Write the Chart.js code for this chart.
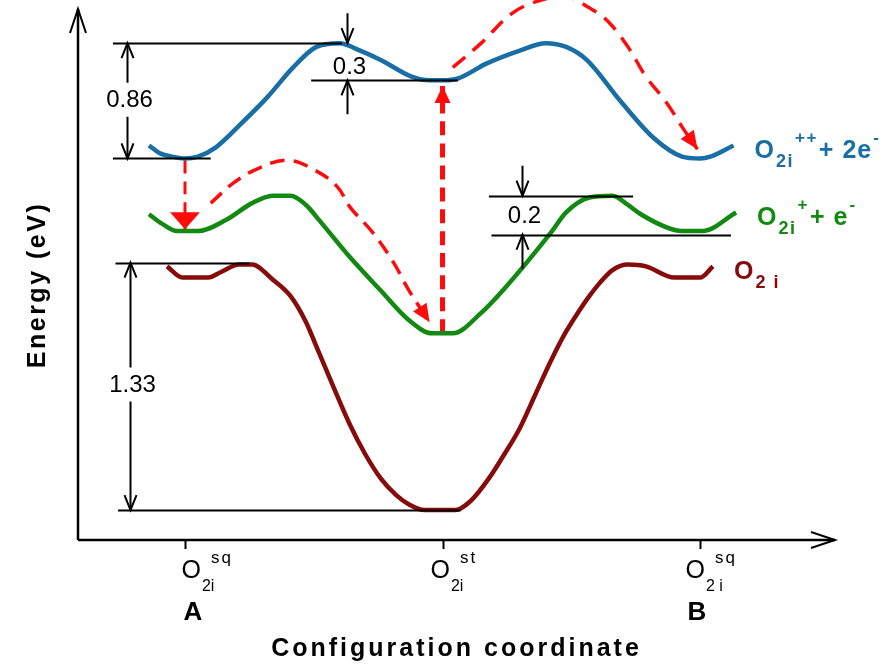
<!DOCTYPE html>
<html>
<head>
<meta charset="utf-8">
<script src="https://cdn.jsdelivr.net/npm/chart.js@4"></script>
<style>
  html, body { margin: 0; padding: 0; background: #fff; }
  canvas { display: block; }
</style>
</head>
<body>
<canvas id="ccd" width="889" height="666"></canvas>
<script>
// x: configuration coordinate (0 = O2i sq at A, 1 = O2i st, 2 = O2i sq at B)
// y: energy (eV), O2i st ground state at 0

// O2i
const redX = [-0.07, -0.01, 0.09, 0.14, 0.21, 0.26, 0.34, 0.41, 0.47, 0.51, 0.58, 0.64, 0.70, 0.76, 0.82, 0.87, 0.93, 1.0, 1.05, 1.11, 1.18, 1.24, 1.30, 1.36, 1.42, 1.48, 1.53, 1.57, 1.61, 1.66, 1.72, 1.79, 1.90, 2.0, 2.05];
const redY = [1.31, 1.25, 1.25, 1.28, 1.32, 1.32, 1.24, 1.15, 1.01, 0.88, 0.65, 0.46, 0.30, 0.17, 0.08, 0.03, 0, 0, 0, 0.05, 0.17, 0.30, 0.44, 0.62, 0.80, 0.96, 1.07, 1.15, 1.22, 1.29, 1.32, 1.31, 1.25, 1.25, 1.31];

// O2i+ + e-
const greenX = [-0.14, -0.09, -0.03, 0.05, 0.16, 0.26, 0.34, 0.41, 0.47, 0.52, 0.64, 0.76, 0.87, 0.96, 1.0, 1.04, 1.15, 1.24, 1.42, 1.48, 1.57, 1.66, 1.72, 1.77, 1.87, 1.93, 2.01, 2.14];
const greenY = [1.59, 1.54, 1.50, 1.50, 1.56, 1.65, 1.69, 1.69, 1.64, 1.56, 1.36, 1.18, 1.02, 0.95, 0.95, 0.95, 1.06, 1.19, 1.49, 1.60, 1.68, 1.69, 1.64, 1.59, 1.52, 1.50, 1.50, 1.60];

// O2i++ + 2e-
const blueX = [-0.14, -0.10, -0.05, 0, 0.05, 0.12, 0.22, 0.32, 0.42, 0.51, 0.60, 0.68, 0.76, 0.88, 0.95, 1.0, 1.06, 1.17, 1.30, 1.40, 1.48, 1.56, 1.69, 1.82, 1.93, 2.0, 2.04, 2.13];
const blueY = [1.96, 1.92, 1.90, 1.89, 1.90, 1.95, 2.08, 2.22, 2.38, 2.49, 2.51, 2.47, 2.42, 2.33, 2.31, 2.31, 2.32, 2.40, 2.47, 2.51, 2.49, 2.42, 2.20, 2.00, 1.90, 1.89, 1.90, 1.96];

// red dashed paths
const dropX = [0, 0];
const dropY = [1.88, 1.51];
const hopAX = [0.10, 0.19, 0.29, 0.40, 0.50, 0.59, 0.64, 0.73, 0.81, 0.87, 0.95];
const hopAY = [1.65, 1.76, 1.84, 1.88, 1.83, 1.74, 1.63, 1.49, 1.33, 1.18, 1.01];
const liftX = [1.0, 1.0];
const liftY = [0.95, 2.28];
const hopBX = [1.04, 1.15, 1.27, 1.38, 1.48, 1.57, 1.64, 1.72, 1.79, 1.87, 1.93, 1.99];
const hopBY = [2.38, 2.51, 2.67, 2.74, 2.76, 2.70, 2.63, 2.49, 2.33, 2.19, 2.06, 1.94];

// black reference levels
const levelX1 = [-0.28, -0.28, 0.49, 1.18, 1.19, -0.27, -0.26];
const levelX2 = [0.61, 0.10, 1.06, 1.74, 2.12, 0.25, 1.07];
const levelY  = [2.51, 1.89, 2.31, 1.69, 1.48, 1.33, 0];

// energy gaps
const gapLabels = ['0.86', '0.3', '0.2', '1.33'];
const gapX      = [-0.225, 0.63, 1.31, -0.215];
const gapTop    = [2.51, 2.51, 1.69, 1.33];
const gapBottom = [1.89, 2.31, 1.48, 0];
const gapTextY  = [2.20, 2.38, 1.58, 0.67];
const gapInside = [true, false, false, true];

// x ticks
const tickValues = [0, 1, 2];
const tickSub = ['2i', '2i', '2 i'];
const tickSup = ['sq', 'st', 'sq'];
const tickLetters = ['A', '', 'B'];

const BLUE = '#1a6ea6';
const GREEN = '#128a12';
const DARKRED = '#870b0b';
const RED = '#ff0b0b';

const toPts = (xs, ys) => xs.map((x, i) => ({ x: x, y: ys[i] }));

function curve(xs, ys, color) {
    return {
        data: toPts(xs, ys),
        borderColor: color,
        borderWidth: 4.5,
        pointRadius: 0,
        cubicInterpolationMode: 'monotone'
    };
}

function dashed(xs, ys, width, dash, head) {
    return {
        data: toPts(xs, ys),
        borderColor: RED,
        borderWidth: width,
        borderDash: dash,
        pointRadius: 0,
        tension: 0.4,
        clip: false,
        head: head
    };
}

function openHead(ctx, x, y, ang, len, half) {
    const c = Math.cos(ang), s = Math.sin(ang);
    ctx.beginPath();
    ctx.moveTo(x - len * c + half * s, y - len * s - half * c);
    ctx.lineTo(x, y);
    ctx.lineTo(x - len * c - half * s, y - len * s + half * c);
    ctx.stroke();
}

function filledHead(ctx, x, y, ang, len, half) {
    const c = Math.cos(ang), s = Math.sin(ang);
    ctx.beginPath();
    ctx.moveTo(x, y);
    ctx.lineTo(x - len * c + half * s, y - len * s - half * c);
    ctx.lineTo(x - len * c - half * s, y - len * s + half * c);
    ctx.closePath();
    ctx.fill();
}

// draws text pieces one after another: [text, kind]
function textRun(ctx, parts, x, base, color) {
    ctx.fillStyle = color;
    ctx.textAlign = 'left';
    ctx.textBaseline = 'alphabetic';
    let cx = x;
    parts.forEach(([t, kind]) => {
        let dy = 0;
        if (kind === 'sub') { ctx.font = 'bold 18px "Liberation Sans", Arial'; dy = 9; }
        else if (kind === 'sup') { ctx.font = 'bold 17px "Liberation Sans", Arial'; dy = -15; }
        else { ctx.font = 'bold 25px "Liberation Sans", Arial'; }
        ctx.letterSpacing = kind === 'main' ? '1px' : '1.5px';
        ctx.fillText(t, cx, base + dy);
        cx += ctx.measureText(t).width + 1;
    });
    ctx.letterSpacing = '0px';
}

const seriesText = [
    [['O', 'main'], ['2 i', 'sub']],
    [['O', 'main'], ['2i', 'sub'], ['+', 'sup'], ['+ e', 'main'], ['-', 'sup']],
    [['O', 'main'], ['2i', 'sub'], ['++', 'sup'], ['+ 2e', 'main'], ['-', 'sup']]
];

const diagramPlugin = {
    id: 'diagram',
    afterDatasetsDraw(chart) {
        const ctx = chart.ctx;
        const xs = chart.scales.x, ys = chart.scales.y;
        const area = chart.chartArea;
        ctx.save();

        // reference levels
        ctx.strokeStyle = '#000';
        ctx.lineWidth = 2;
        levelY.forEach((v, i) => {
            const y = Math.round(ys.getPixelForValue(v)) + 0.5;
            ctx.beginPath();
            ctx.moveTo(xs.getPixelForValue(levelX1[i]), y);
            ctx.lineTo(xs.getPixelForValue(levelX2[i]), y);
            ctx.stroke();
        });

        // gap arrows and values
        gapLabels.forEach((lab, i) => {
            const x = Math.round(xs.getPixelForValue(gapX[i])) + 0.5;
            const yt = ys.getPixelForValue(gapTop[i]);
            const yb = ys.getPixelForValue(gapBottom[i]);
            const yl = ys.getPixelForValue(gapTextY[i]);
            ctx.lineWidth = 2;
            ctx.beginPath();
            if (gapInside[i]) {
                ctx.moveTo(x, yt); ctx.lineTo(x, yl - 18);
                ctx.moveTo(x, yl + 16); ctx.lineTo(x, yb);
                ctx.stroke();
                openHead(ctx, x, yt, -Math.PI / 2, 15, 6);
                openHead(ctx, x, yb, Math.PI / 2, 15, 6);
            } else {
                ctx.moveTo(x, yt - 30); ctx.lineTo(x, yt);
                ctx.moveTo(x, yb + 34); ctx.lineTo(x, yb);
                ctx.stroke();
                openHead(ctx, x, yt, Math.PI / 2, 15, 6);
                openHead(ctx, x, yb, -Math.PI / 2, 15, 6);
            }
            ctx.fillStyle = '#000';
            ctx.font = '24px "Liberation Sans", Arial';
            ctx.textAlign = 'center';
            ctx.textBaseline = 'middle';
            ctx.fillText(lab, x + 2, yl);
        });

        // red arrow heads at the end of the dashed paths
        ctx.fillStyle = RED;
        chart.data.datasets.forEach((ds, i) => {
            if (!ds.head) return;
            const pts = chart.getDatasetMeta(i).data;
            const a = pts[pts.length - 1], b = pts[pts.length - 2];
            const ang = Math.atan2(a.y - b.y, a.x - b.x);
            filledHead(ctx, a.x, a.y, ang, ds.head[0], ds.head[1]);
        });

        // axes with open arrow tips
        const x0 = area.left, y0 = area.bottom;
        ctx.strokeStyle = '#000';
        ctx.lineWidth = 2.5;
        ctx.beginPath();
        ctx.moveTo(x0, y0); ctx.lineTo(x0, area.top + 9);
        ctx.moveTo(x0, y0); ctx.lineTo(area.right, y0);
        ctx.stroke();
        ctx.lineWidth = 2;
        openHead(ctx, x0, area.top + 9, -Math.PI / 2, 24, 8);
        openHead(ctx, area.right, y0, 0, 24, 8);

        // x ticks and their labels
        tickValues.forEach((v, i) => {
            const x = Math.round(xs.getPixelForValue(v)) + 0.5;
            ctx.lineWidth = 2;
            ctx.beginPath();
            ctx.moveTo(x, y0); ctx.lineTo(x, y0 + 9);
            ctx.stroke();
            const lx = x - [4, 13, 15][i];
            ctx.fillStyle = '#000';
            ctx.textAlign = 'left';
            ctx.textBaseline = 'alphabetic';
            ctx.font = '25px "Liberation Sans", Arial';
            ctx.fillText('O', lx, y0 + 38);
            const w = ctx.measureText('O').width;
            ctx.font = '16px "Liberation Sans", Arial';
            ctx.fillText(tickSub[i], lx + w + 1, y0 + 51);
            ctx.letterSpacing = '2px';
            ctx.font = '17px "Liberation Sans", Arial';
            ctx.fillText(tickSup[i], lx + w + 10, y0 + 23);
            ctx.letterSpacing = '0px';
            if (tickLetters[i]) {
                ctx.font = 'bold 26px "Liberation Sans", Arial';
                ctx.fillText(tickLetters[i], lx + 2, y0 + 80);
            }
        });

        // axis titles
        ctx.fillStyle = '#000';
        ctx.textAlign = 'center';
        ctx.textBaseline = 'alphabetic';
        ctx.font = 'bold 25px "Liberation Sans", Arial';
        ctx.letterSpacing = '3px';
        ctx.fillText('Configuration coordinate', (area.left + area.right) / 2, y0 + 116);
        ctx.letterSpacing = '2.5px';
        ctx.translate(45, 285);
        ctx.rotate(-Math.PI / 2);
        ctx.fillText('Energy (eV)', 0, 0);
        ctx.setTransform(1, 0, 0, 1, 0, 0);
        ctx.letterSpacing = '0px';

        // curve names next to the right end of each curve
        [0, 1, 2].forEach(i => {
            const pts = chart.getDatasetMeta(i).data;
            const end = pts[pts.length - 1];
            textRun(ctx, seriesText[i], end.x + 21, end.y + 13, chart.data.datasets[i].borderColor);
        });

        ctx.restore();
    }
};

new Chart(document.getElementById('ccd'), {
    type: 'scatter',
    data: {
        datasets: [
            curve(redX, redY, DARKRED),
            curve(greenX, greenY, GREEN),
            curve(blueX, blueY, BLUE),
            dashed(dropX, dropY, 3, [13, 8], [17, 15]),
            dashed(hopAX, hopAY, 3.5, [15, 9], [18, 8]),
            dashed(liftX, liftY, 5, [14, 8], [17, 8]),
            dashed(hopBX, hopBY, 3.5, [16, 10], [18, 8])
        ]
    },
    options: {
        responsive: false,
        animation: false,
        devicePixelRatio: 1,
        showLine: true,
        layout: { padding: { left: 78, right: 54, top: 0, bottom: 126 } },
        scales: {
            x: { type: 'linear', display: false, min: -0.4155, max: 2.524 },
            y: { type: 'linear', display: false, min: -0.161, max: 2.742 }
        },
        plugins: {
            legend: { display: false },
            tooltip: { enabled: false }
        }
    },
    plugins: [diagramPlugin]
});
</script>
</body>
</html>
